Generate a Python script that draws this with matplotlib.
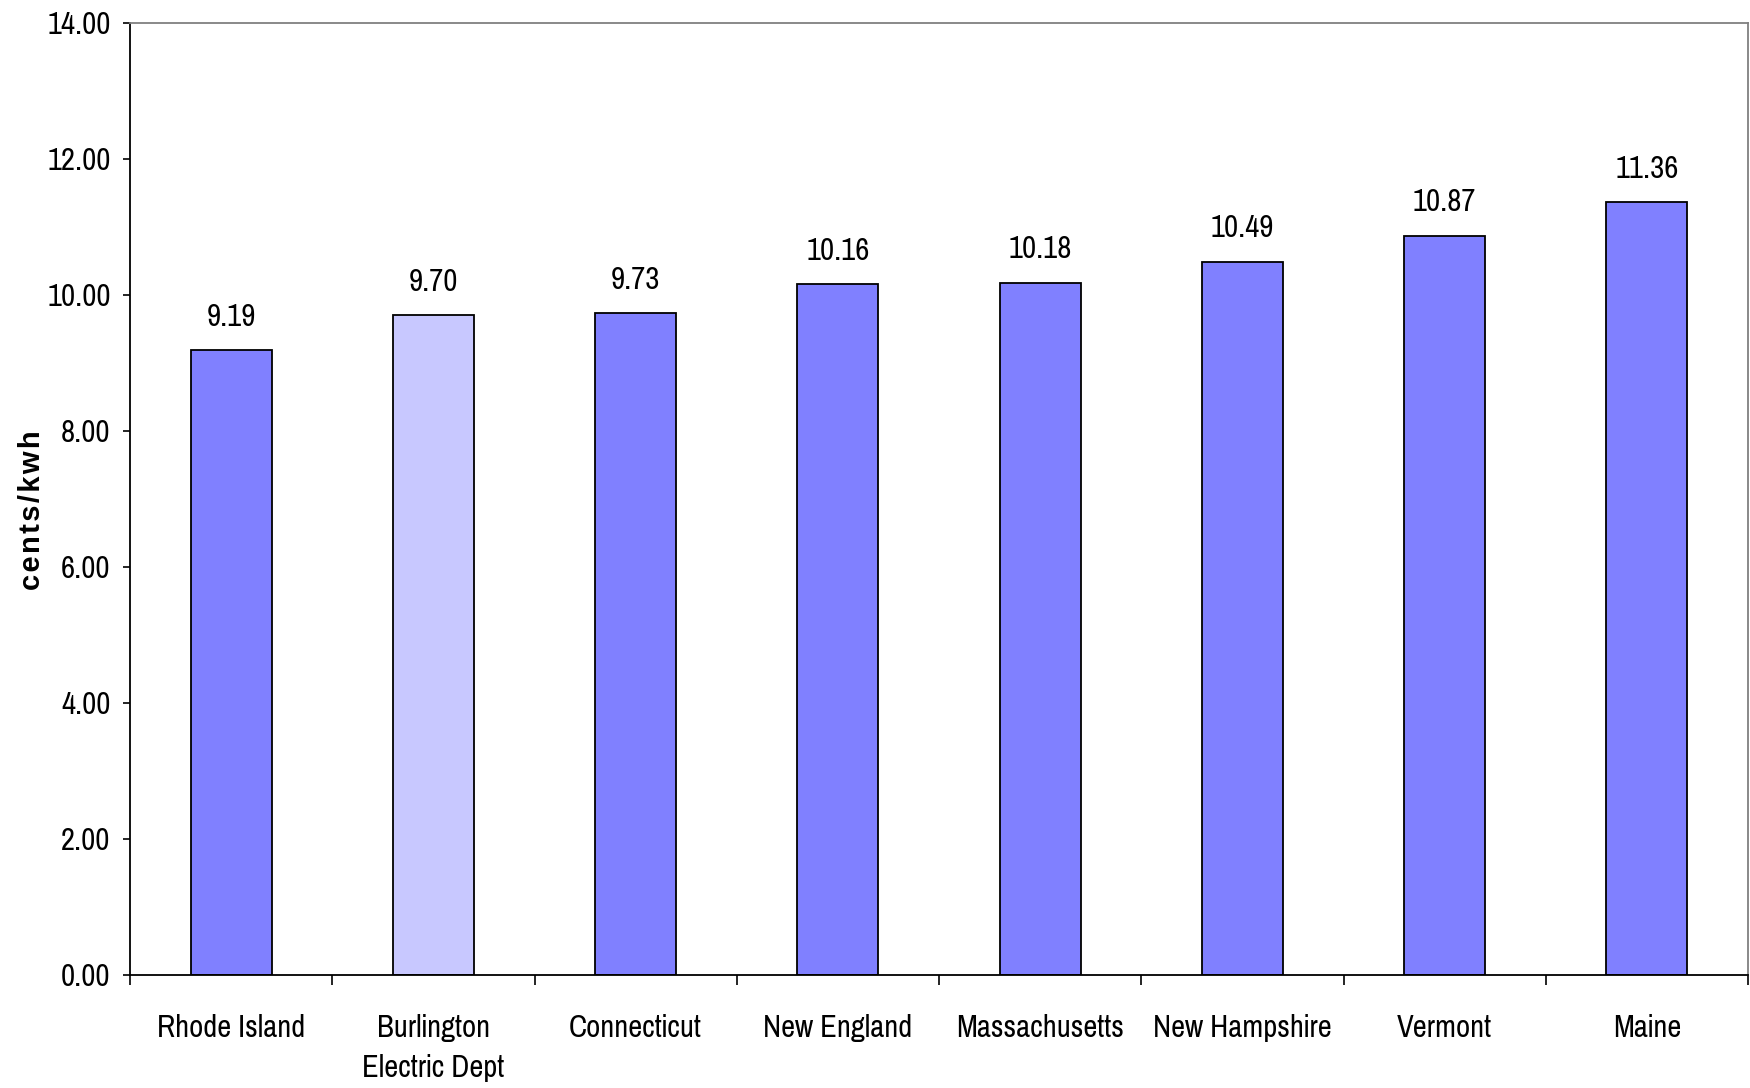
import numpy as np
import matplotlib
matplotlib.use("Agg")
import matplotlib.pyplot as plt

plt.rcParams['font.family'] = ['Pragati Narrow', 'Archivo Narrow', 'Roboto Condensed', 'DejaVu Sans']

categories = ['Rhode Island', 'Burlington\nElectric Dept', 'Connecticut', 'New England',
              'Massachusetts', 'New Hampshire', 'Vermont', 'Maine']
values = [9.19, 9.70, 9.73, 10.16, 10.18, 10.49, 10.87, 11.36]
colors = ['#8080FF', '#C8C8FF', '#8080FF', '#8080FF', '#8080FF', '#8080FF', '#8080FF', '#8080FF']
yticks = [0, 2, 4, 6, 8, 10, 12, 14]

fig = plt.figure(figsize=(17.5, 10.88), dpi=100)
ax = fig.add_axes([0.0743, 0.1039, 0.9246, 0.875])

x = np.arange(len(categories))
bars = ax.bar(x, values, width=0.40, color=colors, edgecolor='black', linewidth=1.3)

for xi, v in zip(x, values):
    ax.annotate(f'{v:.2f}', (xi, v), xytext=(0, 14), textcoords='offset points',
                ha='center', va='bottom', fontsize=24)

ax.set_xlim(-0.5, len(categories) - 0.5)
ax.set_ylim(0, 14)
ax.set_yticks(yticks)
ax.set_yticklabels([f'{t:.2f}' for t in yticks], fontsize=24)

# category labels centred, ticks on the boundaries
ax.set_xticks(x)
ax.set_xticklabels(categories, fontsize=24, linespacing=1.55)
ax.tick_params(axis='x', which='major', length=0, pad=28)
ax.set_xticks(np.arange(len(categories) + 1) - 0.5, minor=True)
ax.tick_params(axis='x', which='minor', length=7, width=1.2, direction='out')
ax.tick_params(axis='y', length=5, width=1.2, pad=9)

# slightly spaced letters like the original
ax.set_ylabel('\u200a'.join('cents/kwh'), fontsize=21, fontweight='bold',
              family=['Liberation Sans', 'DejaVu Sans'])
ax.yaxis.set_label_coords(-0.052, 0.488)

for s in ['left', 'bottom']:
    ax.spines[s].set_color('black')
    ax.spines[s].set_linewidth(1.3)
for s in ['top', 'right']:
    ax.spines[s].set_color('#808080')
    ax.spines[s].set_linewidth(1.3)

fig.savefig('out.png', dpi=100)
